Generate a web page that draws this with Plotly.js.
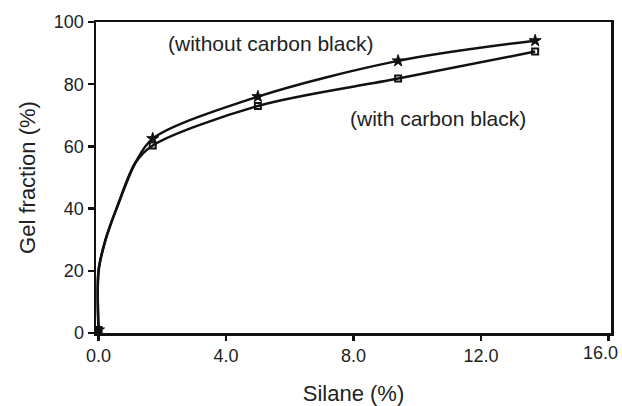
<!DOCTYPE html>
<html>
<head>
<meta charset="utf-8">
<script src="https://cdn.plot.ly/plotly-3.0.1.min.js"></script>
<style>
  html, body { margin: 0; padding: 0; background: #ffffff; }
  #chart { width: 622px; height: 406px; }
</style>
</head>
<body>
<div id="chart"></div>
<script>
// Measured points: silane content vs gel fraction
const silane = [0, 1.7, 5.0, 9.4, 13.7];
const gelWithout = [1, 62.5, 76, 87.5, 94];   // without carbon black (stars)
const gelWith = [1, 60.3, 73, 81.8, 90.5];    // with carbon black (squares)

// Shared steep initial rise of both fitted curves
const riseX = [0, 0, 0.22, 0.59, 1.16];
const riseY = [1, 20, 30, 40.7, 54.8];

const xTicks = [0, 4, 8, 12, 16];
const xTickText = ['0.0', '4.0', '8.0', '12.0', ''];
// the last x label sits at the page's right edge, so it is placed right-aligned
const xLastTick = 16;
const xLastText = '16.0';
const yTicks = [0, 20, 40, 60, 80, 100];

const ink = '#111111';
const labelInk = '#222222';
const font = 'Liberation Sans, Arial, sans-serif';

function curve(ys) {
  return {
    x: riseX.concat(silane.slice(1)),
    y: riseY.concat(ys.slice(1)),
    mode: 'lines',
    line: { color: ink, width: 2.5, shape: 'spline', smoothing: 0.9 },
    hoverinfo: 'skip',
    showlegend: false
  };
}

const traces = [
  curve(gelWith),
  curve(gelWithout),
  {
    x: silane, y: gelWith, mode: 'markers', showlegend: false,
    marker: { symbol: 'square-open', size: 6, color: ink, line: { color: ink, width: 2 } }
  },
  {
    x: silane, y: gelWithout, mode: 'markers', showlegend: false,
    marker: { symbol: 'star', size: 9, color: ink, line: { color: ink, width: 1 } }
  }
];

const layout = {
  width: 622, height: 406,
  margin: { l: 96, r: 11, t: 22, b: 73 },
  paper_bgcolor: '#ffffff', plot_bgcolor: '#ffffff',
  font: { family: font, color: ink },
  showlegend: false,
  xaxis: {
    range: [-0.08, 16.08],
    tickvals: xTicks, ticktext: xTickText,
    ticks: 'outside', ticklen: 5, tickwidth: 2.5, tickcolor: ink,
    showline: true, linecolor: ink, linewidth: 2.5, mirror: true,
    showgrid: false, zeroline: false,
    tickfont: { size: 18, family: font, color: labelInk },
    title: { text: 'Silane (%)', font: { size: 22, family: font, color: labelInk }, standoff: 24 }
  },
  yaxis: {
    range: [0, 100],
    tickvals: yTicks,
    ticks: 'outside', ticklen: 6, tickwidth: 2.5, tickcolor: ink,
    showline: true, linecolor: ink, linewidth: 2.5, mirror: true,
    showgrid: false, zeroline: false,
    tickfont: { size: 18, family: font, color: labelInk },
    title: { text: 'Gel fraction (%)', font: { size: 22, family: font, color: labelInk }, standoff: 12 }
  },
  annotations: [
    { x: 5.39, y: 93.2, xref: 'x', yref: 'y', text: '(without carbon black)', showarrow: false,
      font: { size: 21, family: font, color: labelInk } },
    { x: 10.66, y: 69, xref: 'x', yref: 'y', text: '(with carbon black)', showarrow: false,
      font: { size: 21, family: font, color: labelInk } },
    { x: xLastTick, y: 0, xref: 'x', yref: 'paper', text: xLastText, showarrow: false,
      xanchor: 'right', yanchor: 'top', xshift: 12, yshift: -8,
      font: { size: 18, family: font, color: labelInk } }
  ]
};

Plotly.newPlot('chart', traces, layout, { displayModeBar: false, staticPlot: true });
</script>
</body>
</html>
